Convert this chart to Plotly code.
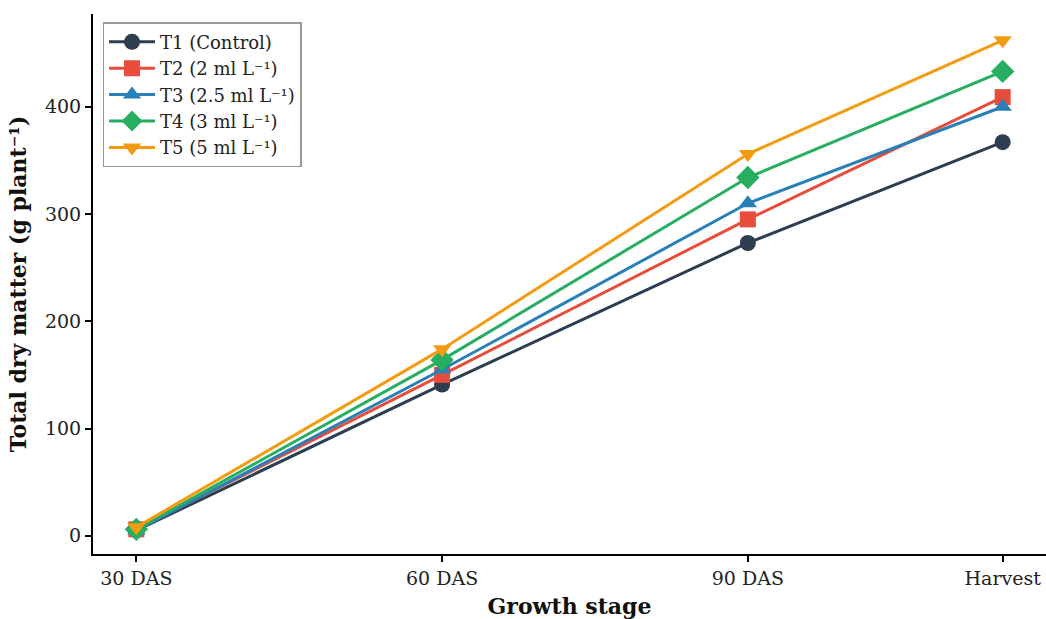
import plotly.graph_objects as go

stages = ["30 DAS", "60 DAS", "90 DAS", "Harvest"]
stage_days = [30, 60, 90, 115]
t1 = [5, 141, 273, 367]
t2 = [6, 150, 295, 409]
t3 = [5, 155, 310, 400]
t4 = [6, 164, 334, 433]
t5 = [8, 174, 356, 462]
names = ["T1 (Control)", "T2 (2 ml L⁻¹)", "T3 (2.5 ml L⁻¹)", "T4 (3 ml L⁻¹)", "T5 (5 ml L⁻¹)"]
colors = ["#2c3e50", "#e74c3c", "#2980b9", "#27ae60", "#f39c12"]
symbols = ["circle", "square", "triangle-up", "diamond", "triangle-down"]
series = [t1, t2, t3, t4, t5]

fig = go.Figure()
for name, vals, c, s in zip(names, series, colors, symbols):
    fig.add_trace(go.Scatter(
        x=stage_days, y=vals, name=name, mode="lines+markers",
        line=dict(color=c, width=3),
        marker=dict(symbol=s, size=16 if s != "diamond" else 18, color=c),
    ))

font = "DejaVu Serif"
fig.update_layout(
    width=1046, height=619,
    margin=dict(l=93, r=0, t=14, b=65),
    paper_bgcolor="white", plot_bgcolor="white",
    font=dict(family=font, size=19, color="#222"),
    showlegend=True,
    legend=dict(x=0.01, y=0.985, xanchor="left", yanchor="top",
                bordercolor="#999", borderwidth=1.5, bgcolor="rgba(255,255,255,0.8)",
                font=dict(family=font, size=18, color="#222"),
                tracegroupgap=0, itemwidth=46),
    xaxis=dict(range=[25.75, 119.25], tickvals=stage_days, ticktext=stages,
               showgrid=False, zeroline=False, showline=True, linecolor="black", linewidth=2,
               ticks="outside", ticklen=6, tickwidth=1.5, tickcolor="black",
               title=dict(text="<b>Growth stage</b>", font=dict(family=font, size=22, color="#111"), standoff=12),
               tickfont=dict(family=font, size=19, color="#222")),
    yaxis=dict(range=[-17, 486.5], tickvals=[0, 100, 200, 300, 400],
               showgrid=False, zeroline=False, showline=True, linecolor="black", linewidth=2,
               ticks="outside", ticklen=6, tickwidth=1.5, tickcolor="black",
               title=dict(text="<b>Total dry matter (g plant⁻¹)</b>", font=dict(family=font, size=22, color="#111"), standoff=12),
               tickfont=dict(family=font, size=19, color="#222")),
)

fig.write_html("out.html")
